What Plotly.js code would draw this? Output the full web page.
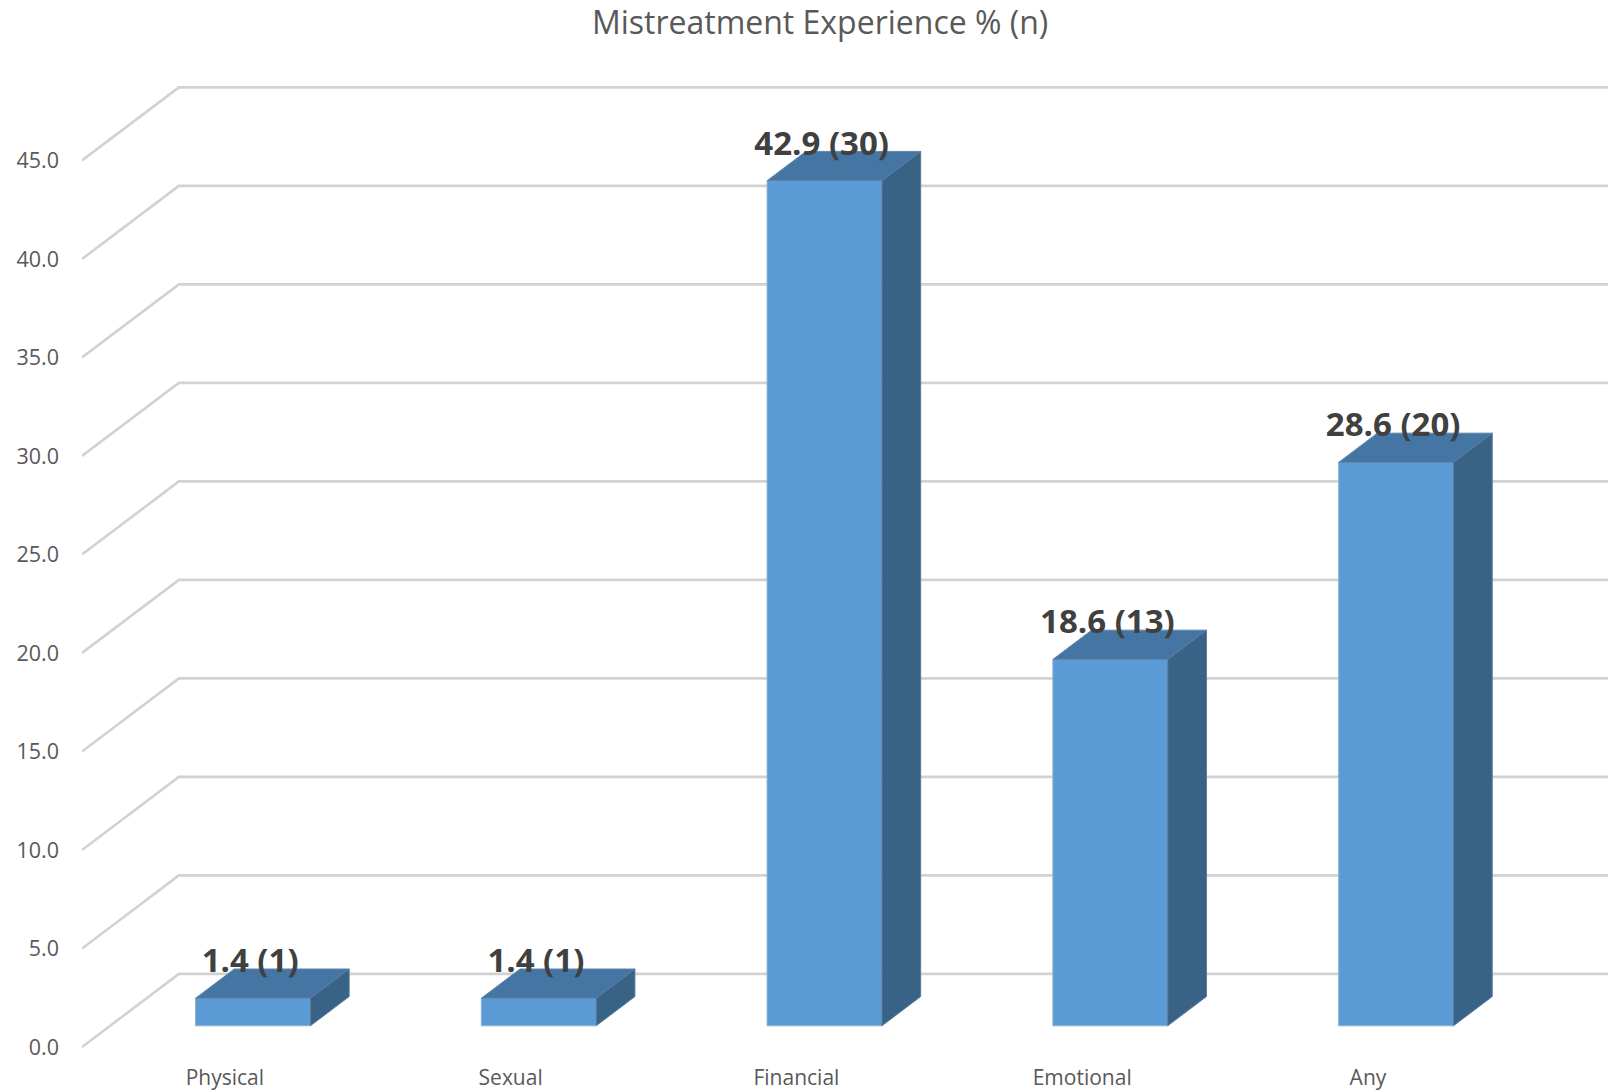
<!DOCTYPE html>
<html>
<head>
<meta charset="utf-8">
<script src="https://cdn.plot.ly/plotly-3.0.1.min.js"></script>
<style>
  html, body { margin: 0; padding: 0; background: #ffffff; }
  #chart { width: 1608px; height: 1091px; }
</style>
</head>
<body>
<div id="chart"></div>
<script>
// Mistreatment categories and their percentages / counts
const categories = ["Physical", "Sexual", "Financial", "Emotional", "Any"];
const percents = [1.4, 1.4, 42.9, 18.6, 28.6];
const counts = [1, 1, 30, 13, 20];
const yTicks = [0, 5, 10, 15, 20, 25, 30, 35, 40, 45];

// Oblique projection: depth 0 = front edge, depth 1 = back wall
const DX = 0.339;   // x shift (category units) for full depth
const DY = 3.71;    // y shift (value units) for full depth
const X_MIN = -0.5, X_MAX = 4.84;
const D_FRONT = 0.29, D_BACK = 0.69;  // bar depth span
const HALF_W = 0.201;                 // half of bar width

const FONT = "'Open Sans', sans-serif";

function proj(x, y, d) { return [x + d * DX, y + d * DY]; }

const traces = [];

// Wall / floor gridlines (below the bars): side-wall diagonal, then along the back wall
const gridShapes = yTicks.map(v => {
  const a = proj(X_MIN, v, 0), b = proj(X_MIN, v, 1), c = proj(X_MAX + 0.3, v, 1);
  return {
    type: "path", xref: "x", yref: "y", layer: "below",
    path: "M" + a[0] + "," + a[1] + " L" + b[0] + "," + b[1] + " L" + c[0] + "," + c[1],
    line: { color: "#d2d2d2", width: 2.6 }
  };
});

// Bar front faces
const frontX = categories.map((_, i) => i + D_FRONT * DX);
traces.push({
  type: "bar", x: frontX, y: percents, base: D_FRONT * DY,
  width: 2 * HALF_W,
  marker: { color: "#5b9bd5", line: { color: "#8fb2d6", width: 1 } },
  hoverinfo: "skip", showlegend: false
});

// Bar top and side faces
const tx = [], ty = [], sx = [], sy = [];
const dd = D_BACK - D_FRONT;
percents.forEach((v, i) => {
  const x0 = i - HALF_W + D_FRONT * DX, x1 = i + HALF_W + D_FRONT * DX;
  const yb = D_FRONT * DY, yt = v + D_FRONT * DY;
  tx.push(x0, x1, x1 + dd * DX, x0 + dd * DX, x0, null);
  ty.push(yt, yt, yt + dd * DY, yt + dd * DY, yt, null);
  sx.push(x1, x1, x1 + dd * DX, x1 + dd * DX, x1, null);
  sy.push(yb, yt, yt + dd * DY, yb + dd * DY, yb, null);
});
traces.push({
  type: "scatter", mode: "lines", x: tx, y: ty, fill: "toself",
  fillcolor: "#4575a3", line: { color: "#5f86ad", width: 1 },
  hoverinfo: "skip", showlegend: false
});
traces.push({
  type: "scatter", mode: "lines", x: sx, y: sy, fill: "toself",
  fillcolor: "#386387", line: { color: "#5c7c9c", width: 1 },
  hoverinfo: "skip", showlegend: false
});

// Value labels "pct (n)"
traces.push({
  type: "scatter", mode: "text",
  x: frontX.map(x => x - 0.01),
  y: percents.map(v => v + D_BACK * DY + 0.25),
  text: percents.map((v, i) => v.toFixed(1) + " (" + counts[i] + ")"),
  textposition: "middle center",
  textfont: { family: FONT, size: 33, color: "#404040", weight: 700 },
  cliponaxis: false, hoverinfo: "skip", showlegend: false
});

const layout = {
  width: 1608, height: 1091,
  margin: { l: 82, r: 0, t: 62, b: 29 },
  paper_bgcolor: "#ffffff", plot_bgcolor: "rgba(0,0,0,0)",
  title: {
    text: "Mistreatment Experience % (n)",
    font: { family: FONT, size: 32, color: "#595959" },
    x: 0.51, xanchor: "center", y: 0.979, yanchor: "middle"
  },
  xaxis: {
    range: [X_MIN, X_MAX], showgrid: false, zeroline: false, showline: false,
    tickmode: "array", tickvals: categories.map((_, i) => i), ticktext: categories,
    ticks: "", tickfont: { family: FONT, size: 21, color: "#595959" },
    ticklabelstandoff: 1, fixedrange: true
  },
  yaxis: {
    range: [-0.761, 50], showgrid: false, zeroline: false, showline: false,
    tickmode: "array", tickvals: yTicks, ticktext: yTicks.map(v => v.toFixed(1)),
    ticks: "", tickfont: { family: FONT, size: 21.5, color: "#595959" },
    ticklabelstandoff: 22, fixedrange: true
  },
  shapes: gridShapes,
  bargap: 0, showlegend: false
};

Plotly.newPlot("chart", traces, layout, { displayModeBar: false, staticPlot: true });
</script>
</body>
</html>
